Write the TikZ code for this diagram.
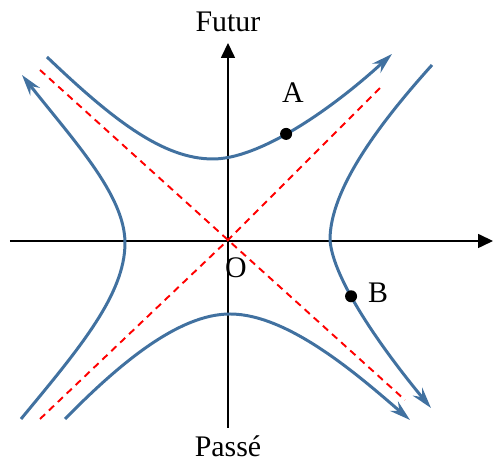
\documentclass[tikz,border=0pt]{standalone}
\usepackage{fontspec}
\setmainfont{Liberation Serif}
\usetikzlibrary{arrows.meta}
\definecolor{branche}{RGB}{65,113,160}

\begin{document}
\begin{tikzpicture}[font=\fontsize{17}{20}\selectfont,
    axe/.style={line width=0.7pt,-{Triangle[length=8.5pt,width=8pt]}},
    cone/.style={red,line width=1.1pt,dash pattern=on 4pt off 3pt},
    branch/.style={branche,line width=1.7pt},
    fleche/.style={-{Stealth[length=12pt,width=7pt,inset=4pt]}}]
  \useasboundingbox (-4.56,-4.42) rectangle (5.3,4.8);
  \coordinate (O) at (0,0);
  \coordinate (Xg) at (-4.36,-0.02);
  \coordinate (Xd) at (5.3,-0.02);
  \coordinate (Tb) at (0,-3.76);
  \coordinate (Th) at (0,3.94);
  \draw[axe] (Xg) -- (Xd);
  \draw[axe] (Tb) -- (Th);
  % cone de lumiere
  \draw[cone] (-3.76,3.4) -- (O) -- (3.54,-3.2);
  \draw[cone] (-3.76,-3.58) -- (O) -- (3.1,3.1);
  % branche du haut
  \draw[branch,fleche] (-3.62,3.66) .. controls (-2.3,2.4) and (-1.3,1.62) .. (-0.3,1.62)
    .. controls (0.6,1.62) and (2.0,2.55) .. coordinate[pos=0.45] (A) (3.28,3.72);
  % branche du bas
  \draw[branch,fleche] (-3.26,-3.58) .. controls (-2.2,-2.5) and (-1.0,-1.48) .. (0.04,-1.48)
    .. controls (1.2,-1.48) and (2.6,-2.7) .. (3.64,-3.6);
  % branche de gauche
  \draw[branch,fleche] (-4.14,-3.58) .. controls (-3.0,-2.2) and (-2.06,-1.1) .. (-2.06,-0.06)
    .. controls (-2.06,0.9) and (-3.1,2.0) .. (-4.12,3.3);
  % branche de droite
  \draw[branch,fleche] (4.08,3.5) .. controls (3.0,2.3) and (2.04,1.0) .. (2.04,0)
    .. controls (2.1,-0.8) and (3.1,-2.2) .. coordinate[pos=0.38] (B) (4.06,-3.36);
  \fill (A) circle (0.12);
  \fill (B) circle (0.12);
  \node (futur) at (0,4.36) {Futur};
  \node (passe) at (0,-4.12) {Passé};
  \node (labO) at (0.16,-0.56) {O};
  \node (labA) at (1.3,2.94) {A};
  \node (labB) at (3.0,-1.06) {B};
\end{tikzpicture}
\end{document}
